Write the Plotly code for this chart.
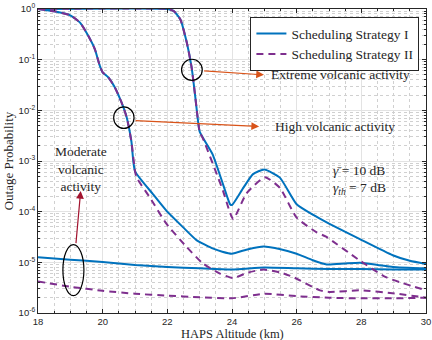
import plotly.graph_objects as go

# ---------------- data ----------------

# High volcanic activity: both strategies share the first part of the curve
high_top_x = [18, 18.5, 19.0, 19.3, 19.55, 19.76, 19.91, 20.0, 20.17, 20.37, 20.58, 20.74, 20.89, 21.0]
high_top = [1.0, 0.9, 0.75, 0.54, 0.30, 0.16, 0.076, 0.056, 0.045, 0.029, 0.0145, 0.0074, 0.0024, 6.3e-4]

high_I_x = [21.56, 21.97, 22.49, 22.9, 23.42, 23.7, 23.99, 24.5, 24.97, 25.5, 26.0, 26.5, 26.93, 27.5, 27.96, 28.5, 28.98, 30.0]
high_I = [2.2e-4, 1.05e-4, 4.9e-5, 2.75e-5, 1.86e-5, 1.62e-5, 1.48e-5, 1.82e-5, 2.05e-5, 1.82e-5, 1.48e-5, 1.1e-5, 9.1e-6, 9.5e-6, 9.8e-6, 8.9e-6, 8.1e-6, 7.6e-6]

high_II_x = [21.05, 21.46, 21.97, 22.6, 23.1, 23.63, 24.03, 24.5, 24.96, 25.5, 25.9, 26.72, 27.03, 27.96, 29.1, 29.9, 30.0]
high_II = [4.7e-4, 1.9e-4, 5.8e-5, 2.0e-5, 9.5e-6, 6.0e-6, 4.9e-6, 6.3e-6, 7.2e-6, 6.3e-6, 5.1e-6, 2.8e-6, 2.6e-6, 2.8e-6, 2.4e-6, 2.05e-6, 2.0e-6]

# Extreme volcanic activity
ext_top_x = [18, 22.0, 22.2, 22.4, 22.6, 22.75, 22.85, 22.93, 23.0]
ext_top = [1.0, 1.0, 0.91, 0.63, 0.22, 0.071, 0.022, 0.0079, 0.0038]

ext_I_x = [23.4, 23.72, 23.94, 24.0, 24.35, 24.65, 25.0, 25.48, 26.0, 26.5, 27.0, 27.94, 28.97, 29.5, 30.0]
ext_I = [1.35e-3, 3.5e-4, 1.4e-4, 1.35e-4, 2.95e-4, 5.5e-4, 6.8e-4, 4.7e-4, 1.4e-4, 8.7e-5, 5.8e-5, 2.9e-5, 1.38e-5, 1.07e-5, 9.3e-6]

ext_II_x = [23.1, 23.72, 23.94, 24.04, 24.45, 25.02, 25.48, 26.0, 26.62, 26.91, 27.94, 28.76, 30.0]
ext_II = [2.8e-3, 2.6e-4, 9.5e-5, 7.1e-5, 2.3e-4, 4.8e-4, 2.95e-4, 7.6e-5, 3.9e-5, 3.2e-5, 1.1e-5, 5.1e-6, 2.8e-6]

# Moderate volcanic activity
mod_x = [18, 19, 20, 21, 22, 23, 24, 25, 26, 27, 28, 29, 30]
mod_I = [1.26e-5, 1.12e-5, 1.02e-5, 8.9e-6, 8.1e-6, 7.6e-6, 7.2e-6, 7.9e-6, 7.6e-6, 7.4e-6, 7.4e-6, 7.2e-6, 7.2e-6]
mod_II = [4.2e-6, 3.3e-6, 2.75e-6, 2.4e-6, 2.2e-6, 2.05e-6, 1.95e-6, 2.4e-6, 2.15e-6, 2.0e-6, 1.95e-6, 1.95e-6, 2.0e-6]

y_ticks = [1e-6, 1e-5, 1e-4, 1e-3, 1e-2, 1e-1, 1]
y_ticktext = ["10<sup>-6</sup>", "10<sup>-5</sup>", "10<sup>-4</sup>", "10<sup>-3</sup>",
              "10<sup>-2</sup>", "10<sup>-1</sup>", "10<sup>0</sup>"]
x_ticks = [18, 20, 22, 24, 26, 28, 30]

# ---------------- figure ----------------

blue = "#0072BD"
purple = "#7E2F8E"
orange = "#D95319"
red = "#A2142F"
serif = "Liberation Serif"
dark = "#262626"

fig = go.Figure()

curves_I = [(high_top_x + high_I_x, high_top + high_I),
            (ext_top_x + ext_I_x, ext_top + ext_I),
            (mod_x, mod_I)]
curves_II = [(high_top_x + high_II_x, high_top + high_II),
             (ext_top_x + ext_II_x, ext_top + ext_II),
             (mod_x, mod_II)]

for i, (xs, ys) in enumerate(curves_I):
    fig.add_trace(go.Scatter(x=xs, y=ys, mode="lines", name="Scheduling Strategy I",
                             legendgroup="I", showlegend=(i == 0),
                             line=dict(color=blue, width=2, shape="spline", smoothing=0.5)))
for i, (xs, ys) in enumerate(curves_II):
    fig.add_trace(go.Scatter(x=xs, y=ys, mode="lines", name="Scheduling Strategy II",
                             legendgroup="II", showlegend=(i == 0),
                             line=dict(color=purple, width=2, dash="7px,5px",
                                       shape="spline", smoothing=0.5)))

# ellipses around the curves
for x0, x1, y0, y1 in [(22.44, 23.08, 0.039, 0.102),
                       (20.34, 20.97, 4.4e-3, 1.17e-2),
                       (18.77, 19.42, 2.2e-6, 2.24e-5)]:
    fig.add_shape(type="circle", xref="x", yref="y", x0=x0, x1=x1, y0=y0, y1=y1,
                  line=dict(color="black", width=1.2))

# arrows (annotation positions are log10 on the y axis)
for (hx, hy, tx, ty, col) in [(24.99, -1.30, 23.09, -1.22, orange),
                              (24.84, -2.32, 20.97, -2.20, orange),
                              (19.32, -3.59, 19.17, -4.65, red)]:
    fig.add_annotation(x=hx, y=hy, ax=tx, ay=ty, xref="x", yref="y", axref="x", ayref="y",
                       text="", showarrow=True, arrowhead=2, arrowsize=1.3,
                       arrowwidth=1.2, arrowcolor=col)

txt = dict(family=serif, size=13.5, color=dark)
fig.add_annotation(x=25.14, y=-1.30, text="Extreme volcanic activity", showarrow=False,
                   xanchor="left", font=txt)
fig.add_annotation(x=25.26, y=-2.31, text="High volcanic activity", showarrow=False,
                   xanchor="left", font=txt)
fig.add_annotation(x=19.32, y=-3.16, text="Moderate<br>volcanic<br>activity", showarrow=False,
                   xanchor="center", font=txt)
fig.add_annotation(x=27.06, y=-3.19, text="<i>γ\u0304</i> = 10 dB", showarrow=False,
                   xanchor="left", font=txt)
fig.add_annotation(x=27.06, y=-3.55, text="<i>γ<sub>th</sub></i> = 7 dB", showarrow=False,
                   xanchor="left", font=txt)

# x axis title, placed just under the tick labels
fig.add_annotation(x=0.5, y=0, xref="paper", yref="paper", yshift=-21, yanchor="middle",
                   text="HAPS Altitude (km)", showarrow=False,
                   font=dict(family=serif, size=12.5, color=dark))

minor_y = [m * 10 ** e for e in range(-6, 0) for m in range(2, 10)]

axis_common = dict(showline=True, linecolor=dark, linewidth=1, mirror="allticks",
                   ticks="inside", ticklen=4, tickcolor=dark, automargin=False,
                   ticklabeloverflow="allow",
                   showgrid=True, gridcolor="#e3e3e3", gridwidth=1, zeroline=False,
                   tickfont=dict(family="Liberation Sans", size=9.5, color=dark))

fig.update_xaxes(range=[18, 30], tickvals=x_ticks, ticklabelstandoff=0,
                 minor=dict(dtick=0.5, showgrid=True, gridcolor="#d0d0d0", griddash="dot",
                            ticks="inside", ticklen=2, tickcolor=dark),
                 **axis_common)
fig.update_yaxes(type="log", range=[-6, 0], tickvals=y_ticks, ticktext=y_ticktext,
                 title=dict(text="Outage Probability", font=dict(family=serif, size=13, color=dark),
                            standoff=2),
                 minor=dict(tickvals=minor_y, showgrid=True, gridcolor="#d0d0d0", griddash="dot",
                            ticks="inside", ticklen=2, tickcolor=dark),
                 **axis_common)

fig.update_layout(
    width=432, height=340,
    margin=dict(l=38, r=6, t=9, b=27),
    plot_bgcolor="white", paper_bgcolor="white",
    legend=dict(x=0.983, y=0.973, xanchor="right", yanchor="top",
                bgcolor="white", bordercolor=dark, borderwidth=1,
                font=dict(family=serif, size=13.5, color=dark),
                tracegroupgap=0, itemwidth=30),
)

# the page body has a default 8px margin; drop it so the figure sits at the corner
fig.write_html("out.html", config={"displayModeBar": False},
               post_script="document.body.style.margin='0';")
